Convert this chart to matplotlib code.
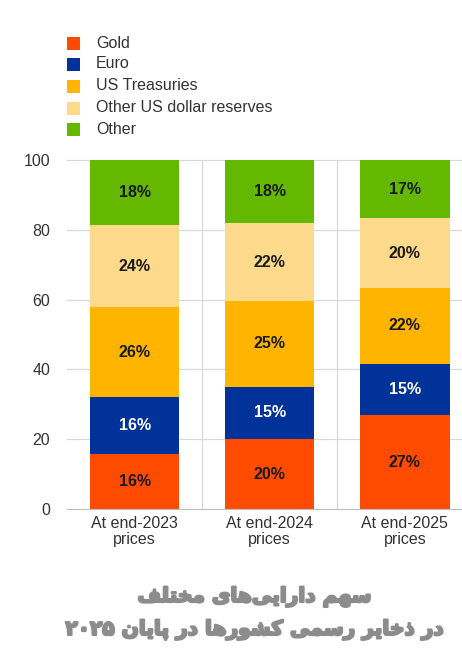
import re
import numpy as np
import matplotlib
matplotlib.use("Agg")
import matplotlib.pyplot as plt
import matplotlib.patheffects as pe
from matplotlib.patches import Rectangle

DPI = 100
W, H = 462, 666

categories = ["At end-2023\nprices", "At end-2024\nprices", "At end-2025\nprices"]
series = ["Gold", "Euro", "US Treasuries", "Other US dollar reserves", "Other"]
gold = [15.7, 20.0, 26.9]
euro = [16.3, 15.1, 14.7]
treasuries = [25.8, 24.5, 21.8]
other_usd = [23.6, 22.3, 19.9]
other = [18.6, 18.1, 16.7]
gold_lbl = ["16%", "20%", "27%"]
euro_lbl = ["16%", "15%", "15%"]
treasuries_lbl = ["26%", "25%", "22%"]
other_usd_lbl = ["24%", "22%", "20%"]
other_lbl = ["18%", "18%", "17%"]
yticks = [0, 20, 40, 60, 80, 100]
title_lines = ["سهم دارایی\u200cهای مختلف", "در ذخایر رسمی کشورها در پایان ۲۰۲۵"]

colors = ["#FF4B00", "#003299", "#FFB400", "#FDD98B", "#65B800"]
text_colors = ["#1a1a1a", "#FFFFFF", "#1a1a1a", "#1a1a1a", "#1a1a1a"]

# minimal Persian shaping: (isolated, final, initial, medial)
FORMS = {
    "ا": ("\uFE8D", "\uFE8E", None, None),
    "د": ("\uFEA9", "\uFEAA", None, None),
    "ذ": ("\uFEAB", "\uFEAC", None, None),
    "ر": ("\uFEAD", "\uFEAE", None, None),
    "و": ("\uFEED", "\uFEEE", None, None),
    "س": ("\uFEB1", "\uFEB2", "\uFEB3", "\uFEB4"),
    "ش": ("\uFEB5", "\uFEB6", "\uFEB7", "\uFEB8"),
    "ه": ("\uFEE9", "\uFEEA", "\uFEEB", "\uFEEC"),
    "م": ("\uFEE1", "\uFEE2", "\uFEE3", "\uFEE4"),
    "خ": ("\uFEA5", "\uFEA6", "\uFEA7", "\uFEA8"),
    "ت": ("\uFE95", "\uFE96", "\uFE97", "\uFE98"),
    "ل": ("\uFEDD", "\uFEDE", "\uFEDF", "\uFEE0"),
    "ف": ("\uFED1", "\uFED2", "\uFED3", "\uFED4"),
    "ن": ("\uFEE5", "\uFEE6", "\uFEE7", "\uFEE8"),
    "ی": ("\uFBFC", "\uFBFD", "\uFBFE", "\uFBFF"),
    "ک": ("\uFB8E", "\uFB8F", "\uFB90", "\uFB91"),
    "پ": ("\uFB56", "\uFB57", "\uFB58", "\uFB59"),
}


def shape(text):
    out = []
    for i, c in enumerate(text):
        if c not in FORMS:
            out.append(c)
            continue
        prev = text[i - 1] if i > 0 else ""
        nxt = text[i + 1] if i + 1 < len(text) else ""
        jp = prev in FORMS and FORMS[prev][2] is not None
        jn = FORMS[c][2] is not None and nxt in FORMS
        iso, fin, ini, med = FORMS[c]
        out.append(med if jp and jn else fin if jp else ini if jn else iso)
    s = "".join(out).replace("\u200c", "")
    parts = re.findall(r"[\u06F0-\u06F9]+|[^\u06F0-\u06F9]", s)
    return "".join(reversed(parts))


plt.rcParams.update({
    "font.family": ["Liberation Sans", "DejaVu Sans"],
    "font.size": 11,
})

fig = plt.figure(figsize=(W / DPI, H / DPI), dpi=DPI)
ax = fig.add_axes([67 / W, 1 - 509 / H, 405.5 / W, 349 / H])

x = np.arange(len(categories))
stack = [gold, euro, treasuries, other_usd, other]
labels = [gold_lbl, euro_lbl, treasuries_lbl, other_usd_lbl, other_lbl]
bottom = np.zeros(len(categories))
for vals, lbls, col, tcol in zip(stack, labels, colors, text_colors):
    vals = np.array(vals)
    ax.bar(x, vals, bottom=bottom, width=0.66, color=col, zorder=3)
    for xi, b, v, t in zip(x, bottom, vals, lbls):
        ax.text(xi, b + v / 2, t, ha="center", va="center", fontsize=11.5,
                fontweight="bold", color=tcol, zorder=4)
    bottom += vals

ax.set_xlim(-0.5, 2.5)
ax.set_ylim(0, 100)
ax.set_yticks(yticks)
ax.set_xticks(x)
ax.set_xticklabels(categories, fontsize=11.5, color="#333333", linespacing=1.1)
ax.tick_params(axis="y", length=0, pad=12, labelsize=11.5, labelcolor="#333333")
ax.tick_params(axis="x", length=0, pad=5)
for yv in yticks[1:]:
    ax.axhline(yv, color="#D9D9D9", linewidth=0.9, zorder=1, clip_on=False)
for xv in [0.5, 1.5]:
    ax.axvline(xv, color="#D9D9D9", linewidth=0.9, zorder=1)
for s in ["top", "left", "right"]:
    ax.spines[s].set_visible(False)
ax.spines["bottom"].set_color("#BFBFBF")
ax.spines["bottom"].set_zorder(5)

# legend
ys = [43, 64, 86, 108, 129]
for name, col, yy in zip(series, colors, ys):
    fig.patches.append(Rectangle((67 / W, 1 - (yy + 6.5) / H), 13 / W, 13 / H,
                                 transform=fig.transFigure, facecolor=col,
                                 edgecolor="none"))
    fig.text(96 / W, 1 - yy / H, name, ha="left", va="center", fontsize=11.5,
             color="#333333")

# title
for line, yy in zip(title_lines, [597, 630]):
    fig.text(255 / W, 1 - yy / H, shape(line), ha="center", va="center",
             fontsize=14.5, fontweight="bold", color="#8C8C8C",
             family=["DejaVu Sans"],
             path_effects=[pe.withStroke(linewidth=1.6, foreground="#8C8C8C")])

fig.savefig("out.png", dpi=DPI)
